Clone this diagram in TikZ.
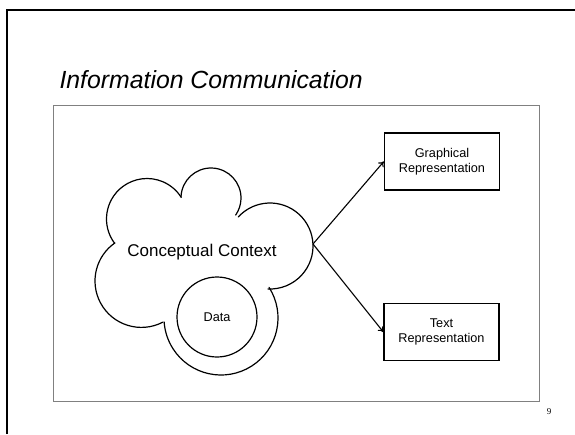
\documentclass[tikz,border=0pt]{standalone}
\usepackage{fontspec}
\setmainfont{Liberation Sans}
\newfontfamily\pagefont{Liberation Serif}
\usetikzlibrary{arrows.meta}

\tikzset{
    repbox/.style={draw, line width=1.3pt, minimum width=115pt, minimum height=57pt, align=center,
        font=\fontsize{12.7}{15.5}\selectfont},
    link/.style={-{To[length=5pt,width=7pt]}, line width=1.1pt},
}

\begin{document}
\begin{tikzpicture}[x=1pt, y=-1pt]
    \useasboundingbox (0, 0) rectangle (575, 434);

    \draw[line width=2pt] (6.5, 434) -- (6.5, 10) -- (575, 10);
    \node[anchor=base west, font=\fontsize{24.8}{30}\selectfont\itshape] (title) at (56, 88) {Information Communication};
    \draw[gray, line width=1pt] (53, 105) rectangle (539, 401);

    % cloud outline, one arc per bump
    \foreach \cx/\cy/\a/\b/\r in {147/219/143.1/327.8/40.5, 211/198/182/394.7/30,
                                  270/246/222.3/452.7/43, 221/318/-32.5/176/57,
                                  141.4/281/62.2/235.2/46.4}
        \draw[line width=1.2pt, line cap=round] (\cx, \cy) ++(\a:\r) arc[start angle=\a, end angle=\b, radius=\r];

    \node[font=\fontsize{17}{20}\selectfont] (context) at (202, 252) {Conceptual Context};
    \node[draw, circle, line width=1.2pt, minimum size=80pt, font=\fontsize{12.7}{15}\selectfont] (data) at (217, 317) {Data};
    \coordinate (cloudtip) at (313, 244);

    \node[repbox] (graphical) at (442, 161.5) {Graphical\\Representation};
    \node[repbox] (textrep) at (441.5, 332) {Text\\Representation};

    \draw[link] (cloudtip) -- (graphical.west);
    \draw[link] (cloudtip) -- (textrep.west);

    \node[font=\pagefont\fontsize{9}{10}\selectfont] (pagenum) at (549, 412) {9};
\end{tikzpicture}
\end{document}
